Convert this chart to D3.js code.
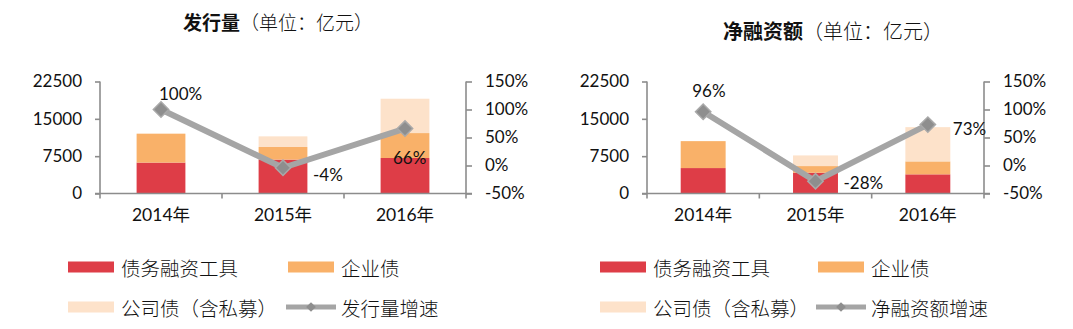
<!DOCTYPE html>
<html>
<head>
<meta charset="utf-8">
<script src="https://cdn.jsdelivr.net/npm/d3@7/dist/d3.min.js"></script>
<style>
  html, body { margin: 0; padding: 0; background: #ffffff; }
  svg { display: block; }
  .num { font-family: "Lato", "Noto Sans CJK SC", sans-serif; fill: #111; }
  .cjk { font-family: "Noto Sans CJK SC", sans-serif; fill: #111; }
</style>
</head>
<body>
<svg id="chart" width="1073" height="329"></svg>
<script>
// Categories and tick labels
const years = ["2014年", "2015年", "2016年"];
const amountTicks = [0, 7500, 15000, 22500];
const growthTicks = [-50, 0, 50, 100, 150];
const seriesNames = ["债务融资工具", "企业债", "公司债（含私募）"];

// Issuance (亿元)
const issueDebtInstr = [6210, 6810, 7130];
const issueEnterprise = [5810, 2530, 5010];
const issueCorporate = [0, 2140, 6900];
const issueGrowth = [100, -4, 66];

// Net financing (亿元)
const netDebtInstr = [5110, 4170, 3850];
const netEnterprise = [5410, 1340, 2600];
const netCorporate = [0, 2140, 6880];
const netGrowth = [96, -28, 73];

const colors = ["#DE3D47", "#F9B169", "#FDE2CA"];
const lineColor = "#A5A5A5";
const markerColor = "#8E8E8E";
const axisColor = "#8C8C8C";

const svg = d3.select("#chart");

function drawPanel(cfg) {
  const g = svg.append("g");

  const x = d3.scaleBand().domain(years).range([cfg.x0, cfg.x1]).paddingInner(0.6).paddingOuter(0.3);
  const xTickScale = d3.scaleLinear().domain([0, years.length]).range([cfg.x0, cfg.x1]);
  const y = d3.scaleLinear().domain([0, 22500]).range([cfg.yBottom, cfg.yTop]);
  const y2 = d3.scaleLinear().domain([-50, 150]).range([cfg.yBottom, cfg.yTop]);

  // Stacked bars
  const rows = years.map((yr, i) => ({ year: yr, a: cfg.s1[i], b: cfg.s2[i], c: cfg.s3[i] }));
  const stack = d3.stack().keys(["a", "b", "c"])(rows);
  g.append("g").selectAll("g").data(stack).join("g")
    .attr("fill", (d, i) => colors[i])
    .selectAll("rect").data(d => d).join("rect")
    .attr("x", d => x(d.data.year))
    .attr("width", x.bandwidth())
    .attr("y", d => y(d[1]))
    .attr("height", d => y(d[0]) - y(d[1]));

  // Left value axis
  const leftAxis = d3.axisLeft(y).tickValues(amountTicks).tickSize(5).tickPadding(13)
    .tickFormat(d3.format("d"));
  const la = g.append("g").attr("transform", `translate(${cfg.x0},0)`).call(leftAxis);
  la.select(".domain").attr("d", `M0,${cfg.yTop}V${cfg.yBottom}`);

  // Right growth axis
  const rightAxis = d3.axisRight(y2).tickValues(growthTicks).tickSize(6).tickPadding(13)
    .tickFormat(d => d + "%");
  const ra = g.append("g").attr("transform", `translate(${cfg.x1},0)`).call(rightAxis);
  ra.select(".domain").attr("d", `M0,${cfg.yTop}V${cfg.yBottom}`);

  // Category axis with boundary ticks
  const xa = g.append("g").attr("transform", `translate(0,${cfg.yBottom})`);
  xa.append("line").attr("x1", cfg.x0 - 5).attr("x2", cfg.x1 + 6).attr("y1", 0).attr("y2", 0);
  xa.selectAll("line.tk").data(d3.range(years.length + 1)).join("line")
    .attr("class", "tk")
    .attr("x1", d => xTickScale(d)).attr("x2", d => xTickScale(d))
    .attr("y1", 0).attr("y2", 5);
  xa.selectAll("text").data(years).join("text")
    .attr("class", "num")
    .attr("x", d => x(d) + x.bandwidth() / 2)
    .attr("y", 27)
    .attr("text-anchor", "middle")
    .attr("font-size", 17.5)
    .text(d => d);
  xa.selectAll("line").attr("stroke", axisColor).attr("stroke-width", 1.6);

  [la, ra].forEach(a => {
    a.select(".domain").attr("stroke", axisColor).attr("stroke-width", 1.6);
    a.selectAll(".tick line").attr("stroke", axisColor).attr("stroke-width", 1.6);
    a.selectAll(".tick text").attr("class", "num").attr("font-size", 17).attr("fill", "#111");
  });

  // Growth line and markers
  const cx = i => x(years[i]) + x.bandwidth() / 2;
  const line = d3.line().x((d, i) => cx(i)).y(d => y2(d));
  g.append("path").datum(cfg.growth)
    .attr("d", line)
    .attr("fill", "none")
    .attr("stroke", lineColor)
    .attr("stroke-width", 6)
    .attr("stroke-linejoin", "round");
  g.selectAll("path.mk").data(cfg.growth).join("path")
    .attr("class", "mk")
    .attr("d", d3.symbol().type(d3.symbolDiamond2).size(150))
    .attr("transform", (d, i) => `translate(${cx(i)},${y2(d)})`)
    .attr("fill", markerColor)
    .attr("stroke", "#A9A9A9")
    .attr("stroke-width", 1.5);

  // Growth value labels
  g.selectAll("text.lbl").data(cfg.growth).join("text")
    .attr("class", "num lbl")
    .attr("x", (d, i) => cx(i) + cfg.labelPos[i][0])
    .attr("y", (d, i) => y2(d) + cfg.labelPos[i][1])
    .attr("dominant-baseline", "central")
    .attr("font-size", 17)
    .text(d => d + "%");

  // Title
  const t = g.append("text").attr("class", "cjk")
    .attr("x", cfg.titleX).attr("y", cfg.titleY)
    .attr("text-anchor", "middle").attr("dominant-baseline", "central")
    .attr("font-size", cfg.titleSize);
  t.append("tspan").attr("font-weight", 700).text(cfg.titleBold);
  t.append("tspan").attr("font-weight", 300).text("（单位：亿元）");

  // Legend
  const lg = g.append("g");
  const entries = [
    { type: "rect", color: colors[0], text: seriesNames[0], x: cfg.legX[0], y: cfg.legY[0] },
    { type: "rect", color: colors[1], text: seriesNames[1], x: cfg.legX[1], y: cfg.legY[0] },
    { type: "rect", color: colors[2], text: seriesNames[2], x: cfg.legX[0], y: cfg.legY[1] },
    { type: "line", text: cfg.lineName, x: cfg.legX[1], y: cfg.legY[1] }
  ];
  entries.forEach(e => {
    if (e.type === "rect") {
      lg.append("rect").attr("x", e.x).attr("y", e.y - 5.5).attr("width", 46).attr("height", 11).attr("fill", e.color);
    } else {
      lg.append("line").attr("x1", e.x - 2).attr("x2", e.x + 48).attr("y1", e.y).attr("y2", e.y)
        .attr("stroke", lineColor).attr("stroke-width", 5);
      lg.append("path").attr("d", d3.symbol().type(d3.symbolDiamond2).size(60))
        .attr("transform", `translate(${e.x + 23},${e.y})`).attr("fill", markerColor);
    }
    lg.append("text").attr("class", "cjk")
      .attr("x", e.x + 53).attr("y", e.y)
      .attr("dominant-baseline", "central")
      .attr("font-size", 19.5).attr("font-weight", 300)
      .text(e.text);
  });
}

drawPanel({
  x0: 100, x1: 466, yTop: 81.5, yBottom: 193.5,
  s1: issueDebtInstr, s2: issueEnterprise, s3: issueCorporate, growth: issueGrowth,
  labelPos: [[-2, -16], [30, 7], [-12, 29]],
  titleBold: "发行量", titleX: 278, titleY: 21, titleSize: 19,
  legX: [68, 288], legY: [267, 307],
  lineName: "发行量增速"
});

drawPanel({
  x0: 647, x1: 984, yTop: 81.5, yBottom: 193.5,
  s1: netDebtInstr, s2: netEnterprise, s3: netCorporate, growth: netGrowth,
  labelPos: [[-11, -21], [28, 1], [25, 4]],
  titleBold: "净融资额", titleX: 833, titleY: 30, titleSize: 20,
  legX: [600, 818], legY: [267, 307],
  lineName: "净融资额增速"
});
</script>
</body>
</html>
